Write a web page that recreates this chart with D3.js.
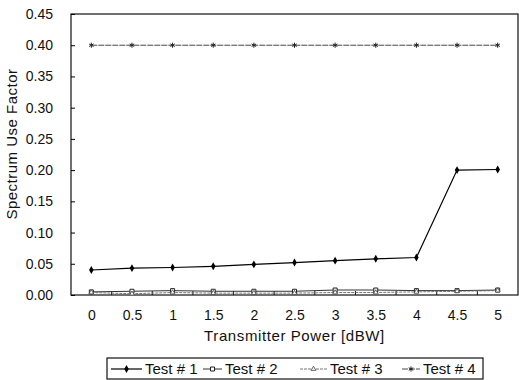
<!DOCTYPE html>
<html>
<head>
<meta charset="utf-8">
<script src="https://cdn.jsdelivr.net/npm/d3@7"></script>
<style>
  body { margin: 0; background: #fff; }
  text { font-family: "Liberation Sans", Arial, sans-serif; fill: #111; }
</style>
</head>
<body>
<div id="chart"></div>
<script>
// data
const powers = ["0", "0.5", "1", "1.5", "2", "2.5", "3", "3.5", "4", "4.5", "5"];
const test1 = [0.040, 0.043, 0.044, 0.046, 0.049, 0.052, 0.055, 0.058, 0.060, 0.200, 0.201];
const test2 = [0.005, 0.006, 0.007, 0.006, 0.006, 0.006, 0.008, 0.008, 0.007, 0.007, 0.008];
const test3 = [0.004, 0.002, 0.004, 0.003, 0.003, 0.003, 0.004, 0.004, 0.005, 0.006, 0.007];
const test4 = [0.400, 0.400, 0.400, 0.400, 0.400, 0.400, 0.400, 0.400, 0.400, 0.400, 0.400];
const seriesNames = ["Test # 1", "Test # 2", "Test # 3", "Test # 4"];
const yTicks = [0, 0.05, 0.10, 0.15, 0.20, 0.25, 0.30, 0.35, 0.40, 0.45];

const width = 519, height = 380;
const margin = { top: 14, right: 1, bottom: 85, left: 71 };
const plotW = width - margin.left - margin.right;
const plotH = height - margin.top - margin.bottom;

const svg = d3.select("#chart").append("svg")
    .attr("width", width).attr("height", height);

const g = svg.append("g").attr("transform", "translate(" + margin.left + "," + margin.top + ")");

const x = d3.scalePoint().domain(powers).range([0, plotW]).padding(0.5);
const y = d3.scaleLinear().domain([0, 0.45]).range([plotH, 0]);

// frame
g.append("rect").attr("width", plotW).attr("height", plotH)
    .attr("fill", "none").attr("stroke", "#111").attr("stroke-width", 1.2);

// y axis
const yAxis = d3.axisLeft(y).tickValues(yTicks).tickFormat(d3.format(".2f"))
    .tickSizeInner(-4).tickSizeOuter(0).tickPadding(18);
g.append("g").call(yAxis)
    .call(a => a.select(".domain").remove())
    .call(a => a.selectAll("text").style("font-size", "14px"));

// x axis labels
const xAxis = d3.axisBottom(x).tickSize(0).tickPadding(15);
g.append("g").attr("transform", "translate(0," + plotH + ")").call(xAxis)
    .call(a => a.select(".domain").remove())
    .call(a => a.selectAll("text").style("font-size", "14px"));

// x ticks between categories
g.append("g").selectAll("line").data(powers.slice(0, -1)).join("line")
    .attr("x1", d => x(d) + x.step() / 2).attr("x2", d => x(d) + x.step() / 2)
    .attr("y1", plotH).attr("y2", plotH - 4)
    .attr("stroke", "#111");

// axis titles
svg.append("text")
    .attr("x", margin.left + plotW / 2).attr("y", 341)
    .attr("text-anchor", "middle").style("font-size", "15px").style("letter-spacing", "0.6px")
    .text("Transmitter Power [dBW]");

svg.append("text")
    .attr("transform", "translate(17,144) rotate(-90)")
    .attr("text-anchor", "middle").style("font-size", "15px").style("letter-spacing", "0.5px")
    .text("Spectrum Use Factor");

// series
const series = [
    { name: seriesNames[0], values: test1, stroke: "#000", sw: 1.2, dash: null, marker: "diamond" },
    { name: seriesNames[1], values: test2, stroke: "#333", sw: 1, dash: null, marker: "square" },
    { name: seriesNames[2], values: test3, stroke: "#666", sw: 0.9, dash: "3,1", marker: "triangle" },
    { name: seriesNames[3], values: test4, stroke: "#333", sw: 0.9, dash: "6,1", marker: "star" }
];

const line = d3.line().x((d, i) => x(powers[i])).y(d => y(d));

function drawMarker(sel, type) {
    if (type === "diamond") {
        sel.append("path").attr("d", d3.symbol(d3.symbolDiamond, 18)).attr("fill", "#000");
    } else if (type === "square") {
        sel.append("path").attr("d", d3.symbol(d3.symbolSquare, 16))
            .attr("fill", "#fff").attr("stroke", "#222").attr("stroke-width", 1);
    } else if (type === "triangle") {
        sel.append("path").attr("d", d3.symbol(d3.symbolTriangle, 10))
            .attr("fill", "#fff").attr("stroke", "#444").attr("stroke-width", 0.8);
    } else {
        sel.append("path").attr("d", d3.symbol(d3.symbolAsterisk, 18))
            .attr("fill", "none").attr("stroke", "#222").attr("stroke-width", 1);
    }
}

series.forEach(s => {
    g.append("path").datum(s.values)
        .attr("d", line).attr("fill", "none")
        .attr("stroke", s.stroke).attr("stroke-width", s.sw)
        .attr("stroke-dasharray", s.dash);
    g.append("g").selectAll("g").data(s.values).join("g")
        .attr("transform", (d, i) => "translate(" + x(powers[i]) + "," + y(d) + ")")
        .each(function () { drawMarker(d3.select(this), s.marker); });
});

// legend
const legend = svg.append("g");
legend.append("rect").attr("x", 107).attr("y", 358).attr("width", 376).attr("height", 21)
    .attr("fill", "#fff").attr("stroke", "#111").attr("stroke-width", 1.2);

const legendX = [111, 203, 300, 402];
const lineLen = [31, 19, 27, 18];
series.forEach((s, i) => {
    const it = legend.append("g").attr("transform", "translate(" + legendX[i] + ",369)");
    it.append("line").attr("x1", 0).attr("x2", lineLen[i])
        .attr("stroke", s.stroke).attr("stroke-width", s.sw).attr("stroke-dasharray", s.dash);
    drawMarker(it.append("g").attr("transform", "translate(" + lineLen[i] / 2 + ",0)"), s.marker);
    it.append("text").attr("x", lineLen[i] + 3).attr("dy", "0.36em")
        .style("font-size", "15px")
        .text(s.name);
});
</script>
</body>
</html>
